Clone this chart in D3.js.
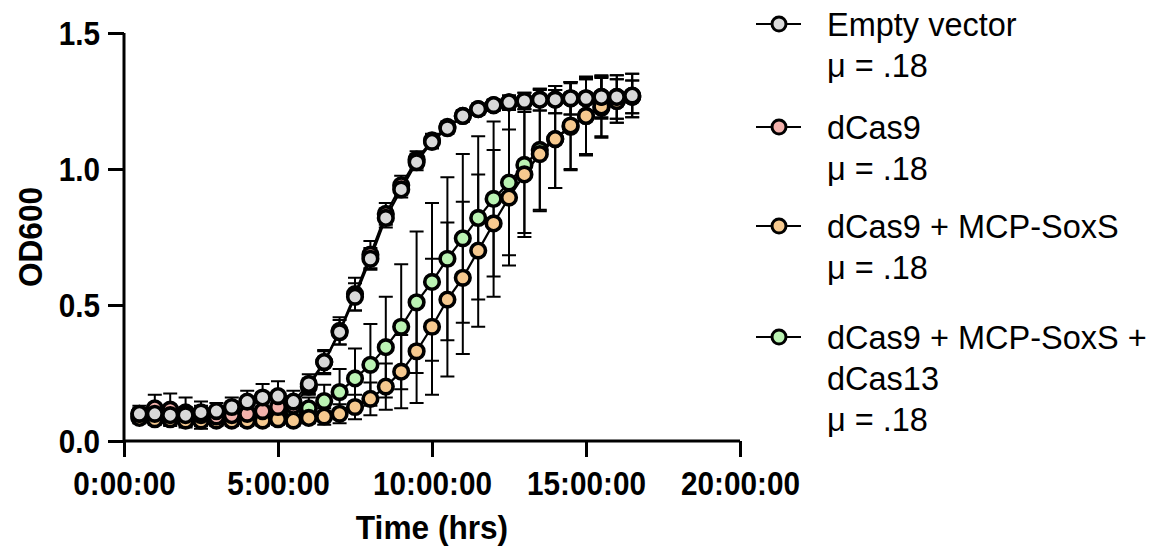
<!DOCTYPE html>
<html>
<head>
<meta charset="utf-8">
<script src="https://cdn.jsdelivr.net/npm/d3@7"></script>
<style>
  html, body { margin: 0; padding: 0; background: #fff; }
  svg { display: block; font-family: "Liberation Sans", Arial, Helvetica, sans-serif; }
</style>
</head>
<body>
<svg id="chart" width="1154" height="548"></svg>
<script>
// Sampling times (hours)
const hours = [0.5, 1, 1.5, 2, 2.5, 3, 3.5, 4, 4.5, 5, 5.5, 6, 6.5, 7, 7.5, 8, 8.5,
               9, 9.5, 10, 10.5, 11, 11.5, 12, 12.5, 13, 13.5, 14, 14.5, 15, 15.5, 16, 16.5];

// Mean OD600 per strain
const emptyVector = [0.10, 0.10, 0.095, 0.095, 0.105, 0.11, 0.125, 0.145, 0.16, 0.165, 0.145, 0.21, 0.29,
  0.40, 0.53, 0.67, 0.82, 0.925, 1.025, 1.10, 1.15, 1.195, 1.22, 1.235, 1.245, 1.25, 1.255, 1.255,
  1.26, 1.26, 1.265, 1.265, 1.27];
const dCas9 = [0.10, 0.12, 0.115, 0.105, 0.095, 0.09, 0.095, 0.10, 0.11, 0.125, 0.13, 0.20, 0.29,
  0.405, 0.54, 0.685, 0.835, 0.94, 1.035, 1.105, 1.155, 1.195, 1.22, 1.235, 1.245, 1.25, 1.255, 1.255,
  1.26, 1.26, 1.265, 1.265, 1.27];
const dCas9SoxS = [0.085, 0.08, 0.08, 0.075, 0.075, 0.075, 0.075, 0.075, 0.075, 0.08, 0.075, 0.085, 0.09,
  0.10, 0.125, 0.155, 0.20, 0.255, 0.33, 0.42, 0.52, 0.60, 0.70, 0.80, 0.895, 0.98, 1.055, 1.11,
  1.16, 1.195, 1.23, 1.25, 1.265];
const dCas9SoxSdCas13 = [0.09, 0.09, 0.09, 0.085, 0.085, 0.085, 0.09, 0.09, 0.095, 0.10, 0.105, 0.12, 0.147,
  0.18, 0.23, 0.28, 0.345, 0.42, 0.51, 0.585, 0.67, 0.745, 0.82, 0.89, 0.95, 1.015, 1.07, 1.11,
  1.155, 1.195, 1.225, 1.25, 1.265];

// Standard deviations per strain
const emptyVectorSD = [0.02, 0.03, 0.03, 0.03, 0.025, 0.03, 0.035, 0.04, 0.05, 0.055, 0.04, 0.035, 0.045,
  0.045, 0.05, 0.04, 0.035, 0.03, 0.03, 0.025, 0.02, 0.02, 0.02, 0.02, 0.025, 0.03, 0.04, 0.05,
  0.06, 0.07, 0.075, 0.08, 0.08];
const dCas9SD = [0.03, 0.05, 0.06, 0.055, 0.05, 0.03, 0.03, 0.035, 0.04, 0.04, 0.03, 0.03, 0.04,
  0.05, 0.06, 0.05, 0.04, 0.035, 0.03, 0.025, 0.02, 0.02, 0.02, 0.02, 0.025, 0.03, 0.04, 0.05,
  0.06, 0.07, 0.08, 0.08, 0.08];
const dCas9SoxSSD = [0.02, 0.02, 0.02, 0.02, 0.02, 0.02, 0.02, 0.02, 0.02, 0.02, 0.02, 0.02, 0.03,
  0.035, 0.045, 0.06, 0.085, 0.135, 0.19, 0.25, 0.283, 0.28, 0.28, 0.27, 0.25, 0.23, 0.21, 0.18,
  0.16, 0.145, 0.11, 0.08, 0.06];
const dCas9SoxSdCas13SD = [0.02, 0.02, 0.02, 0.02, 0.02, 0.02, 0.02, 0.02, 0.02, 0.02, 0.03, 0.04, 0.06,
  0.085, 0.11, 0.15, 0.185, 0.23, 0.26, 0.29, 0.30, 0.31, 0.30, 0.285, 0.267, 0.25, 0.22, 0.18,
  0.16, 0.14, 0.11, 0.08, 0.06];

// Legend text (one array of lines per strain)
const legendLines = [
  ["Empty vector", "μ = .18"],
  ["dCas9", "μ = .18"],
  ["dCas9 + MCP-SoxS", "μ = .18"],
  ["dCas9 + MCP-SoxS +", "dCas13", "μ = .18"]
];
const xTickHours = [0, 5, 10, 15, 20];
const yTickValues = [0.0, 0.5, 1.0, 1.5];

const series = [
  { name: "Empty vector", mean: emptyVector, sd: emptyVectorSD, fill: "#d9d9d9" },
  { name: "dCas9", mean: dCas9, sd: dCas9SD, fill: "#f3b2ac" },
  { name: "dCas9 + MCP-SoxS", mean: dCas9SoxS, sd: dCas9SoxSSD, fill: "#f6c98f" },
  { name: "dCas9 + MCP-SoxS + dCas13", mean: dCas9SoxSdCas13, sd: dCas9SoxSdCas13SD, fill: "#bbf3b3" }
];

const svg = d3.select("#chart");
const x = d3.scaleLinear().domain([0, 20]).range([124, 740]);
const y = d3.scaleLinear().domain([0, 1.5]).range([441, 33]);

// Bold, slightly condensed labels
const squeeze = 0.9;

// Axes
const xAxis = svg.append("g")
  .attr("transform", `translate(0,${y(0)})`)
  .call(d3.axisBottom(x).tickValues(xTickHours).tickSize(16).tickPadding(14)
    .tickFormat(d => `${d}:00:00`));
const yAxis = svg.append("g")
  .attr("transform", `translate(${x(0)},0)`)
  .call(d3.axisLeft(y).tickValues(yTickValues).tickSize(16).tickPadding(8)
    .tickFormat(d3.format(".1f")));

[xAxis, yAxis].forEach(g => {
  g.select(".domain").attr("stroke", "#000").attr("stroke-width", 3);
  g.selectAll(".tick line").attr("stroke", "#000").attr("stroke-width", 3);
  g.selectAll(".tick text").attr("fill", "#000").attr("font-size", 33)
    .attr("font-weight", "bold").attr("font-family", "'Liberation Sans', Arial, sans-serif");
});
xAxis.select(".domain").attr("d", `M${x(0)},0H${x(20)}`);
yAxis.select(".domain").attr("d", `M0,${y(0)}V${y(1.5)}`);
xAxis.selectAll(".tick text")
  .attr("dy", "0.72em")
  .attr("transform", `scale(${squeeze},1)`);
yAxis.selectAll(".tick text")
  .attr("x", -24 / squeeze)
  .attr("dy", "0.34em")
  .attr("transform", `scale(${squeeze},1)`);

// Axis titles
svg.append("text")
  .attr("transform", `translate(${(x(0) + x(20)) / 2},539) scale(0.93,1)`)
  .attr("text-anchor", "middle").attr("font-size", 34).attr("font-weight", "bold")
  .text("Time (hrs)");
svg.append("text")
  .attr("transform", `translate(42,${y(0.75)}) rotate(-90) scale(0.93,1)`)
  .attr("text-anchor", "middle").attr("font-size", 34).attr("font-weight", "bold")
  .text("OD600");

// Data layers: error bars and connecting lines beneath, symbols on top.
const drawOrder = [3, 2, 1, 0];
const bars = svg.append("g");
const lines = svg.append("g");
const dots = svg.append("g");
const capHalf = 7;

drawOrder.forEach(i => {
  const s = series[i];
  const pts = hours.map((h, k) => ({ h, m: s.mean[k], e: s.sd[k] }));

  const eb = bars.append("g").attr("stroke", "#000").attr("stroke-width", 2).attr("fill", "none");
  pts.forEach(p => {
    const cx = x(p.h), y0 = y(p.m - p.e), y1 = y(p.m + p.e);
    eb.append("path").attr("d",
      `M${cx},${y0}V${y1}M${cx - capHalf},${y1}H${cx + capHalf}M${cx - capHalf},${y0}H${cx + capHalf}`);
  });

  lines.append("path")
    .datum(pts)
    .attr("fill", "none").attr("stroke", "#000").attr("stroke-width", 2.2)
    .attr("d", d3.line().x(p => x(p.h)).y(p => y(p.m)));
});

drawOrder.forEach(i => {
  const s = series[i];
  dots.append("g").selectAll("circle")
    .data(hours.map((h, k) => ({ h, m: s.mean[k] })))
    .join("circle")
    .attr("cx", p => x(p.h)).attr("cy", p => y(p.m)).attr("r", 7.3)
    .attr("fill", s.fill).attr("stroke", "#000").attr("stroke-width", 3.6);
});

// Legend
const legendMarkerY = [24, 127, 226, 337];
const legend = svg.append("g");
series.forEach((s, i) => {
  const g = legend.append("g").attr("transform", `translate(0,${legendMarkerY[i]})`);
  g.append("line").attr("x1", 756).attr("x2", 801).attr("y1", 0).attr("y2", 0)
    .attr("stroke", "#000").attr("stroke-width", 2);
  g.append("circle").attr("cx", 779).attr("cy", 0).attr("r", 7)
    .attr("fill", s.fill).attr("stroke", "#000").attr("stroke-width", 3);
  legendLines[i].forEach((t, j) => {
    g.append("text").attr("x", 827).attr("y", 12 + j * 41)
      .attr("font-size", 32.5).attr("fill", "#000").text(t);
  });
});
</script>
</body>
</html>
